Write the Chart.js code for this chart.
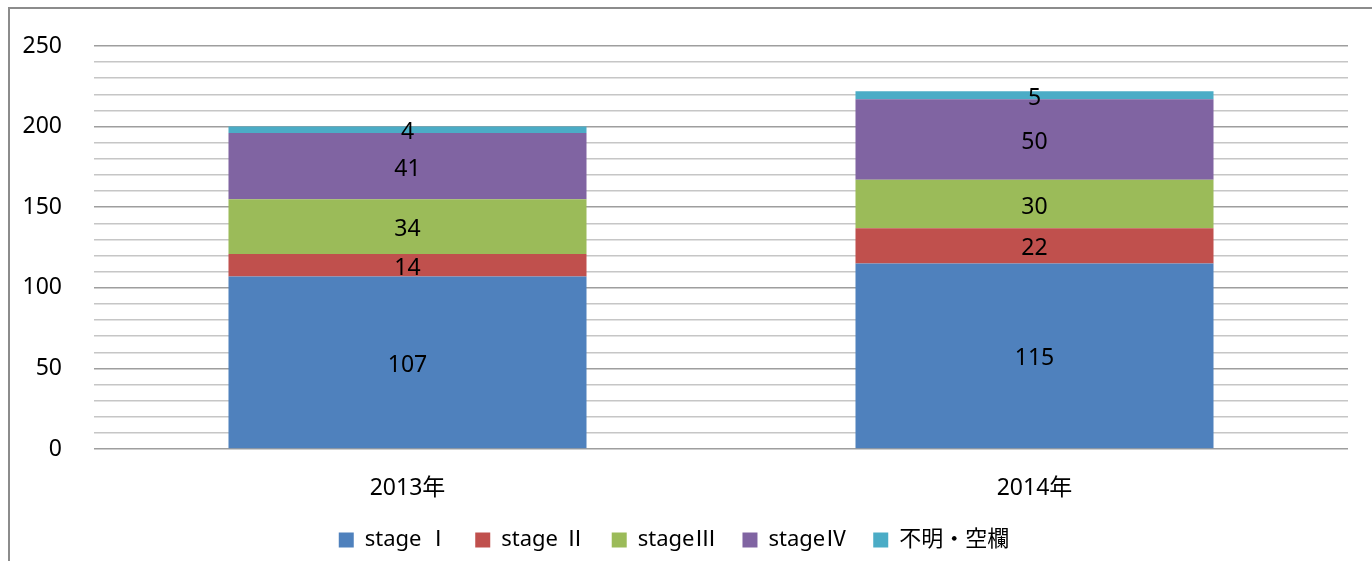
<!DOCTYPE html>
<html lang="ja">

<head>
  <meta charset="UTF-8" />
  <title>stage別件数</title>
  <script src="https://cdn.jsdelivr.net/npm/chart.js"></script>
  <style>
    body { margin: 0; background: #fff; overflow: hidden; }
    #wrap { position: relative; width: 1372px; height: 561px; }
    #frame {
      position: absolute; left: 8px; top: 7px; width: 1500px; height: 700px;
      border: 2px solid #8c8c8c;
    }
    canvas { position: absolute; left: 0; top: 0; }
  </style>
</head>

<body>
  <div id="wrap">
    <div id="frame"></div>
    <canvas id="stageChart" width="1372" height="561"></canvas>
  </div>

  <script>
    const years = ['2013年', '2014年'];
    const stage1 = [107, 115];
    const stage2 = [14, 22];
    const stage3 = [34, 30];
    const stage4 = [41, 50];
    const unknown = [4, 5];

    const FONT = "'Noto Sans', 'Noto Sans CJK JP', sans-serif";

    // draw the value in the middle of each bar segment
    const segmentLabels = {
      id: 'segmentLabels',
      afterDatasetsDraw(chart) {
        const ctx = chart.ctx;
        ctx.save();
        ctx.font = '23px ' + FONT;
        ctx.fillStyle = '#000';
        ctx.textAlign = 'center';
        ctx.textBaseline = 'middle';
        chart.data.datasets.forEach((ds, i) => {
          chart.getDatasetMeta(i).data.forEach((bar, j) => {
            const p = bar.getCenterPoint();
            ctx.fillText(String(ds.data[j]), p.x, p.y + 3);
          });
        });
        ctx.restore();
      }
    };

    new Chart(document.getElementById('stageChart'), {
      type: 'bar',
      data: {
        labels: years,
        datasets: [
          { label: 'stage Ⅰ', data: stage1, backgroundColor: '#4F81BD' },
          { label: 'stage Ⅱ', data: stage2, backgroundColor: '#C0504D' },
          { label: 'stageⅢ', data: stage3, backgroundColor: '#9BBB59' },
          { label: 'stageⅣ', data: stage4, backgroundColor: '#8064A2' },
          { label: '不明・空欄', data: unknown, backgroundColor: '#4BACC6' }
        ]
      },
      options: {
        responsive: false,
        animation: false,
        layout: { padding: { left: 0, right: 24, top: 46, bottom: 0 } },
        datasets: {
          bar: { barPercentage: 0.571, categoryPercentage: 1, borderWidth: 0 }
        },
        scales: {
          x: {
            stacked: true,
            afterFit(scale) { scale.height = 54; },
            grid: { display: false, drawTicks: false },
            border: { display: false },
            ticks: { padding: 26, color: '#000', font: { family: FONT, size: 23 } }
          },
          y: {
            stacked: true,
            min: 0,
            max: 250,
            afterFit(scale) { scale.width = 94; },
            border: { display: false },
            grid: {
              drawTicks: false,
              lineWidth: 1.5,
              color: c => (c.tick && c.tick.value % 50 === 0) ? '#9e9e9e' : '#c6c6c6'
            },
            ticks: {
              stepSize: 10,
              autoSkip: false,
              padding: 32,
              color: '#000',
              font: { family: FONT, size: 23 },
              callback: v => (v % 50 === 0 ? v : '')
            }
          }
        },
        plugins: {
          legend: {
            position: 'bottom',
            labels: {
              boxWidth: 15,
              boxHeight: 15,
              padding: 26,
              color: '#000',
              font: { family: FONT, size: 22 }
            }
          },
          tooltip: { enabled: false }
        }
      },
      plugins: [segmentLabels]
    });
  </script>
</body>

</html>
